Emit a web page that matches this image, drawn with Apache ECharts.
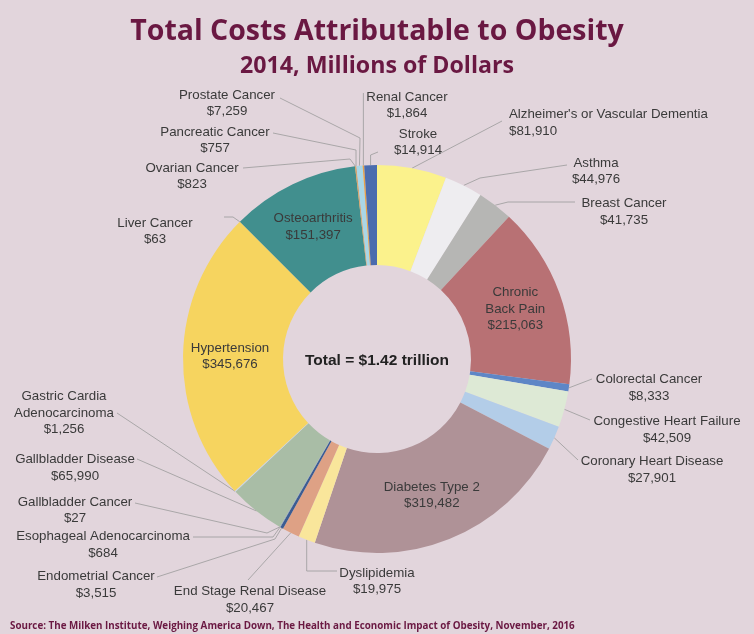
<!DOCTYPE html>
<html><head><meta charset="utf-8">
<script src="https://cdn.jsdelivr.net/npm/echarts@6/dist/echarts.min.js"></script>
<style>html,body{margin:0;padding:0;background:#E2D5DC;}#c{width:754px;height:634px;}</style>
</head><body><div id="c"></div>
<script>
// ---- data ----
const categories = [
  "Alzheimer's or Vascular Dementia", "Asthma", "Breast Cancer", "Chronic Back Pain",
  "Colorectal Cancer", "Congestive Heart Failure", "Coronary Heart Disease", "Diabetes Type 2",
  "Dyslipidemia", "End Stage Renal Disease", "Endometrial Cancer", "Esophageal Adenocarcinoma",
  "Gallbladder Cancer", "Gallbladder Disease", "Gastric Cardia Adenocarcinoma", "Hypertension",
  "Liver Cancer", "Osteoarthritis", "Ovarian Cancer", "Pancreatic Cancer", "Prostate Cancer",
  "Renal Cancer", "Stroke"
];
const values = [
  81910, 44976, 41735, 215063,
  8333, 42509, 27901, 319482,
  19975, 20467, 3515, 684,
  27, 65990, 1256, 345676,
  63, 151397, 823, 757, 7259,
  1864, 14914
];
const titleText = "Total Costs Attributable to Obesity";
const subtitleText = "2014, Millions of Dollars";
const centerText = "Total = $1.42 trillion";
const sourceText = "Source: The Milken Institute, Weighing America Down, The Health and Economic Impact of Obesity, November, 2016";

// ---- styles ----
const palette = [
  "#FBF28C", "#EEEDF0", "#B6B6B4", "#B87174",
  "#5E86C6", "#DDE9D5", "#B3CDE8", "#AF9297",
  "#F9E69B", "#DEA185", "#3C5C91", "#6F8FB8",
  "#8FA0B8", "#A9BDA6", "#C9D6E6", "#F6D45F",
  "#D8B060", "#418F8E", "#E3A24A", "#C98F55", "#A9D6E6",
  "#E6A24A", "#4B6CAE"
];
const inside = ["Chronic Back Pain", "Diabetes Type 2", "Hypertension", "Osteoarthritis"];
const displayName = {
  "Chronic Back Pain": "Chronic\nBack Pain",
  "Gastric Cardia Adenocarcinoma": "Gastric Cardia\nAdenocarcinoma"
};
// label placement (text block centre) and guide line bends
const labelPlace = {
  "Alzheimer's or Vascular Dementia": {x: 509, y: 123, align: 'left', end: [502, 121]},
  "Asthma": {x: 596, y: 171.5, via: [[480, 178]], end: [567, 165]},
  "Breast Cancer": {x: 624, y: 212, via: [[508, 202]], end: [575, 202]},
  "Colorectal Cancer": {x: 649, y: 388, end: [592, 379]},
  "Congestive Heart Failure": {x: 667, y: 430, end: [590, 420]},
  "Coronary Heart Disease": {x: 652, y: 470, end: [578, 460]},
  "Dyslipidemia": {x: 377, y: 581.5, viaY: 571, end: [337, 571]},
  "End Stage Renal Disease": {x: 250, y: 600, end: [248, 580]},
  "Endometrial Cancer": {x: 96, y: 585, via: [[275, 539]], end: [157, 577]},
  "Esophageal Adenocarcinoma": {x: 103, y: 545, via: [[273, 537]], end: [193, 537]},
  "Gallbladder Cancer": {x: 75, y: 510.5, via: [[267, 533]], end: [135, 503]},
  "Gallbladder Disease": {x: 75, y: 468, end: [137, 459]},
  "Gastric Cardia Adenocarcinoma": {x: 64, y: 413, end: [117, 413]},
  "Liver Cancer": {x: 155, y: 231.5, via: [[233, 217]], end: [224, 217]},
  "Ovarian Cancer": {x: 192, y: 176.5, via: [[350, 159]], end: [243, 168]},
  "Pancreatic Cancer": {x: 215, y: 140.5, via: [[356, 150]], end: [273, 133]},
  "Prostate Cancer": {x: 227, y: 103.5, via: [[360, 138]], end: [280, 98]},
  "Renal Cancer": {x: 407, y: 105.5, endY: 93},
  "Stroke": {x: 418, y: 142.5, viaY: 155, end: [378, 152]}
};

const fmt = v => '$' + v.toLocaleString('en-US');
const labelFont = "'Liberation Sans', Arial, Helvetica, sans-serif";
const headFont = "'Open Sans', sans-serif";

const seriesData = categories.map((name, i) => {
  const isIn = inside.indexOf(name) >= 0;
  return {
    name: name,
    value: values[i],
    itemStyle: {color: palette[i]},
    label: {
      show: true,
      position: isIn ? 'inside' : 'outside',
      formatter: (displayName[name] || name) + '\n' + fmt(values[i])
    },
    labelLine: {show: !isIn}
  };
});

const chart = echarts.init(document.getElementById('c'), null, {renderer: 'canvas'});
chart.setOption({
  backgroundColor: '#E2D5DC',
  animation: false,
  title: [
    {text: titleText, left: 'center', top: 12,
     textStyle: {fontFamily: headFont, fontWeight: 'bold', fontSize: 28.5, color: '#6A1842'}},
    {text: subtitleText, left: 'center', top: 50,
     textStyle: {fontFamily: headFont, fontWeight: 'bold', fontSize: 23.2, color: '#6A1842'}},
    {text: centerText, left: 'center', top: 348,
     textStyle: {fontFamily: labelFont, fontWeight: 'bold', fontSize: 15.5, color: '#222'}},
    {text: sourceText, left: 5, top: 616,
     textStyle: {fontFamily: headFont, fontWeight: 'bold', fontSize: 9.8, color: '#6A1842'}}
  ],
  series: [{
    type: 'pie',
    center: [377, 359],
    radius: [94, 194],
    startAngle: 90,
    clockwise: true,
    avoidLabelOverlap: false,
    minShowLabelAngle: 0,
    label: {
      fontFamily: labelFont, fontSize: 13.3, lineHeight: 16.5, color: '#3A3A3A', align: 'center'
    },
    labelLine: {show: true, lineStyle: {color: '#9A9A9A', width: 0.8}},
    emphasis: {disabled: true},
    labelLayout: function (p) {
      const name = categories[p.dataIndex];
      const L = labelPlace[name];
      if (!L) return {};
      const s = (p.labelLinePoints && p.labelLinePoints[0]) || [377, 359];
      const pts = [[s[0], s[1]]];
      if (L.via) L.via.forEach(q => pts.push(q));
      if (L.viaY != null) pts.push([s[0], L.viaY]);
      if (L.end) pts.push(L.end);
      if (L.endY != null) pts.push([s[0], L.endY]);
      return {x: L.x, y: L.y, align: L.align || 'center', verticalAlign: 'middle', labelLinePoints: pts};
    },
    data: seriesData
  }]
});
</script>
</body></html>
